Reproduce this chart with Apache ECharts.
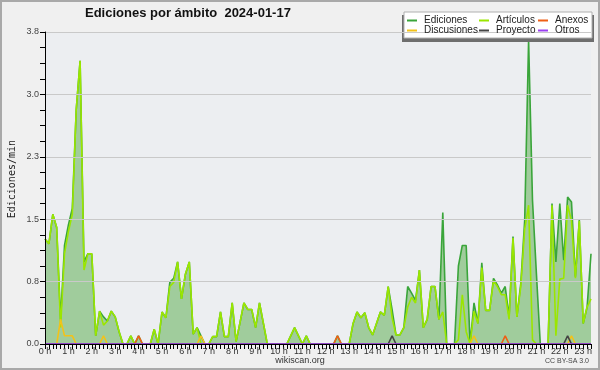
<!DOCTYPE html>
<html>
<head>
<meta charset="utf-8">
<script src="https://cdn.jsdelivr.net/npm/echarts@6/dist/echarts.min.js"></script>
<style>
html,body{margin:0;padding:0;background:#f0f0f0;}
#c{width:600px;height:370px;}
</style>
</head>
<body>
<div id="c"></div>
<script>
// Hour tick labels
var hourLabels = ["0 h","1 h","2 h","3 h","4 h","5 h","6 h","7 h","8 h","9 h","10 h","11 h","12 h","13 h","14 h","15 h","16 h","17 h","18 h","19 h","20 h","21 h","22 h","23 h"];
// y axis tick labels
var yTickLabels = ["0.0","0.8","1.5","2.3","3.0","3.8"];

// 10-minute samples, 00:00 .. 23:20 (141 points), edits per minute
var ediciones = [
1.28,1.22,1.58,1.42,0.30,1.20, 1.45,1.65,2.85,3.45,1.00,1.10,
1.10,0.10,0.40,0.33,0.28,0.40, 0.33,0.15,0,0,0.10,0,
0.10,0,0,0,0.18,0, 0.39,0.32,0.75,0.80,1.00,0.55,
0.85,1.00,0.12,0.20,0.10,0, 0,0.09,0.09,0.39,0.09,0.09,
0.50,0.03,0.26,0.50,0.42,0.42, 0.20,0.50,0.25,0,0,0,
0,0,0,0.10,0.20,0.10, 0,0.10,0,0,0,0,
0,0,0,0.10,0,0, 0,0.25,0.39,0.32,0.38,0.20,
0.11,0.25,0.39,0.35,0.70,0.42, 0.11,0.11,0.20,0.70,0.62,0.53,
0.90,0.20,0.30,0.70,0.70,0.30, 1.60,0,0,0,0.95,1.20,
1.20,0,0.50,0.25,0.99,0.41, 0.41,0.80,0.72,0.62,0.70,0.33,
1.31,0.33,0.74,1.51,3.70,1.75, 0.86,0,0,0,1.71,1.00,
1.71,1.02,1.79,1.73,0.82,1.51, 0.25,0.45,1.10
];
var articulos = [
1.28,1.22,1.58,1.42,0.20,1.10, 1.37,1.58,2.85,3.45,0.90,1.10,
1.10,0.10,0.40,0.23,0.28,0.40, 0.33,0.15,0,0,0.10,0,
0,0,0,0,0.18,0, 0.39,0.32,0.70,0.75,1.00,0.55,
0.85,1.00,0.12,0.20,0,0, 0,0.09,0.09,0.39,0.09,0.09,
0.50,0.03,0.26,0.50,0.42,0.42, 0.20,0.50,0.25,0,0,0,
0,0,0,0.10,0.20,0.10, 0,0.10,0,0,0,0,
0,0,0,0,0,0, 0,0.25,0.39,0.32,0.38,0.20,
0.11,0.25,0.39,0.35,0.70,0.32, 0.11,0.11,0.20,0.45,0.57,0.50,
0.90,0.20,0.30,0.70,0.70,0.30, 0.39,0,0,0,0.05,0.60,
0.15,0,0.40,0.25,0.93,0.41, 0.41,0.77,0.70,0.60,0.60,0.30,
1.29,0.33,0.70,1.40,1.69,0.05, 0,0,0,0,1.69,0.10,
0.79,0.80,1.69,1.50,0.80,1.50, 0.25,0.45,0.55
];
var discusiones = [
0,0,0,0,0.30,0.10, 0.10,0.10,0,0,0,0,
0,0,0,0.10,0,0, 0,0,0,0,0,0,
0,0,0,0,0,0, 0,0,0,0,0,0,
0,0,0,0,0.10,0, 0,0,0,0,0,0,
0,0,0,0,0,0, 0,0,0,0,0,0,
0,0,0,0,0,0, 0,0,0,0,0,0,
0,0,0,0,0,0, 0,0,0,0,0,0,
0,0,0,0,0,0, 0,0,0,0,0,0,
0,0,0,0,0,0, 0,0,0,0,0,0,
0,0,0.10,0,0,0, 0,0,0,0,0,0,
0,0,0,0,0,0, 0,0,0,0,0,0,
0,0,0,0.10,0,0, 0,0,0
];
var anexos = [
0,0,0,0,0,0, 0,0,0,0,0,0,
0,0,0,0,0,0, 0,0,0,0,0,0,
0.10,0,0,0,0,0, 0,0,0,0,0,0,
0,0,0,0,0,0, 0,0,0,0,0,0,
0,0,0,0,0,0, 0,0,0,0,0,0,
0,0,0,0,0,0, 0,0,0,0,0,0,
0,0,0,0.10,0,0, 0,0,0,0,0,0,
0,0,0,0,0,0, 0,0,0,0,0,0,
0,0,0,0,0,0, 0,0,0,0,0,0,
0,0,0,0,0,0, 0,0,0,0,0.10,0,
0,0,0,0,0,0, 0,0,0,0,0,0,
0,0,0,0,0,0, 0,0,0
];
var proyecto = [
0,0,0,0,0,0, 0,0,0,0,0,0,
0,0,0,0,0,0, 0,0,0,0,0,0,
0,0,0,0,0,0, 0,0,0,0,0,0,
0,0,0,0,0,0, 0,0,0,0,0,0,
0,0,0,0,0,0, 0,0,0,0,0,0,
0,0,0,0,0,0, 0,0,0,0,0,0,
0,0,0,0,0,0, 0,0,0,0,0,0,
0,0,0,0,0,0.10, 0,0,0,0,0,0,
0,0,0,0,0,0, 0,0,0,0,0,0,
0,0,0,0,0,0, 0,0,0,0,0,0,
0,0,0,0,0,0, 0,0,0,0,0,0,
0,0,0.10,0,0,0, 0,0,0
];
var otros = [
0,0,0,0,0,0, 0,0,0,0,0,0,
0,0,0,0,0,0, 0,0,0,0,0,0,
0,0,0,0,0,0, 0,0,0,0,0,0,
0,0,0,0,0,0, 0,0,0,0,0,0,
0,0,0,0,0,0, 0,0,0,0,0,0,
0,0,0,0,0,0, 0,0,0,0,0,0,
0,0,0,0,0,0, 0,0,0,0,0,0,
0,0,0,0,0,0, 0,0,0,0,0,0,
0,0,0,0,0,0, 0,0,0,0,0,0,
0,0,0,0,0,0, 0,0,0,0,0,0,
0,0,0,0,0,0, 0,0,0,0,0,0,
0,0,0,0,0,0, 0,0,0
];

var seriesNames = ["Ediciones","Artículos","Anexos","Discusiones","Proyecto","Otros"];

// category per 10-minute slot
var categories = [];
for (var i = 0; i < ediciones.length; i++) {
  var h = Math.floor(i / 6), m = (i % 6) * 10;
  categories.push(h + ":" + (m < 10 ? "0" : "") + m);
}

var chart = echarts.init(document.getElementById('c'), null, {renderer: 'canvas'});
var FONT = 'Liberation Sans';

function lineSeries(name, data, color, z, extra) {
  var s = {
    name: name, type: 'line', data: data, color: color,
    showSymbol: false, symbol: 'none', smooth: false, silent: true,
    lineStyle: {color: color, width: 1.6}, z: z, animation: false
  };
  if (extra) for (var k in extra) s[k] = extra[k];
  return s;
}

var legendCommon = {
  orient: 'vertical', top: 15, itemGap: -1, itemWidth: 10, itemHeight: 2, padding: 0,
  icon: 'rect', z: 20, selectedMode: false,
  textStyle: {fontFamily: FONT, fontSize: 10, color: '#222', lineHeight: 11, padding: [0,0,0,2]}
};
function legendAt(left, data) {
  var l = {}; for (var k in legendCommon) l[k] = legendCommon[k];
  l.left = left; l.data = data; return l;
}

chart.setOption({
  backgroundColor: '#f0f0f0',
  animation: false,
  title: {
    text: 'Ediciones por ámbito  2024-01-17',
    left: 85, top: 7, padding: 0,
    textStyle: {fontFamily: FONT, fontSize: 13, fontWeight: 'bold', color: '#111'}
  },
  legend: [
    legendAt(407, [seriesNames[0], seriesNames[3]]),
    legendAt(479, [seriesNames[1], seriesNames[4]]),
    legendAt(538, [seriesNames[2], seriesNames[5]])
  ],
  grid: {left: 45, right: 9, top: 32, bottom: 26, show: true, backgroundColor: '#eceef1', borderWidth: 0},
  xAxis: {
    type: 'category', data: categories, boundaryGap: false, z: 10,
    axisLine: {lineStyle: {color: '#000', width: 1}},
    axisTick: {interval: 0, length: 5, lineStyle: {color: '#000'}},
    axisLabel: {
      interval: 5, margin: 3, fontFamily: FONT, fontSize: 9, color: '#333',
      formatter: function (v, idx) { return idx % 6 === 0 ? hourLabels[idx / 6] : ''; }
    },
    splitLine: {show: false}
  },
  yAxis: {
    type: 'value', min: 0, max: 3.8, interval: 0.76, z: 10,
    axisLine: {show: true, lineStyle: {color: '#000', width: 1}},
    axisTick: {show: true, length: 5, lineStyle: {color: '#000'}},
    minorTick: {show: true, splitNumber: 4, length: 5, lineStyle: {color: '#000'}},
    axisLabel: {
      margin: 6, fontFamily: FONT, fontSize: 9, color: '#444',
      formatter: function (v) { return yTickLabels[Math.round(v / 0.76)]; }
    },
    splitLine: {show: true, lineStyle: {color: '#c9c9c9', width: 1}}
  },
  graphic: [
    {type: 'text', left: 7, top: 140, rotation: Math.PI / 2, z: 10, silent: true,
     style: {text: 'Ediciones/min', font: '10px "DejaVu Sans Mono"', fill: '#222'}},
    {type: 'rect', shape: {x: 402, y: 15, width: 192, height: 27}, style: {fill: '#6e6e6e'}, z: 5, silent: true},
    {type: 'rect', shape: {x: 404, y: 12, width: 188, height: 26}, style: {fill: '#ffffff', stroke: '#b0b0b0', lineWidth: 1}, z: 6, silent: true},
    {type: 'text', x: 300, y: 356, z: 10, silent: true,
     style: {text: 'wikiscan.org', font: '9px "Liberation Sans"', fill: '#333', textAlign: 'center'}},
    {type: 'text', x: 589, y: 358, z: 10, silent: true,
     style: {text: 'CC BY-SA 3.0', font: '7px "Liberation Sans"', fill: '#444', textAlign: 'right'}},
    {type: 'rect', shape: {x: 1, y: 1, width: 598, height: 368}, style: {fill: 'none', stroke: '#a9a9a9', lineWidth: 2}, z: 30, silent: true}
  ],
  series: [
    lineSeries(seriesNames[0], ediciones, '#3aa53a', 2, {areaStyle: {color: '#a0cc9c', opacity: 1}}),
    lineSeries(seriesNames[1], articulos, '#9be600', 3),
    lineSeries(seriesNames[2], anexos, '#ee5f15', 4),
    lineSeries(seriesNames[3], discusiones, '#f2c21a', 4),
    lineSeries(seriesNames[4], proyecto, '#444444', 4),
    lineSeries(seriesNames[5], otros, '#9a40f0', 4)
  ]
});
</script>
</body>
</html>
